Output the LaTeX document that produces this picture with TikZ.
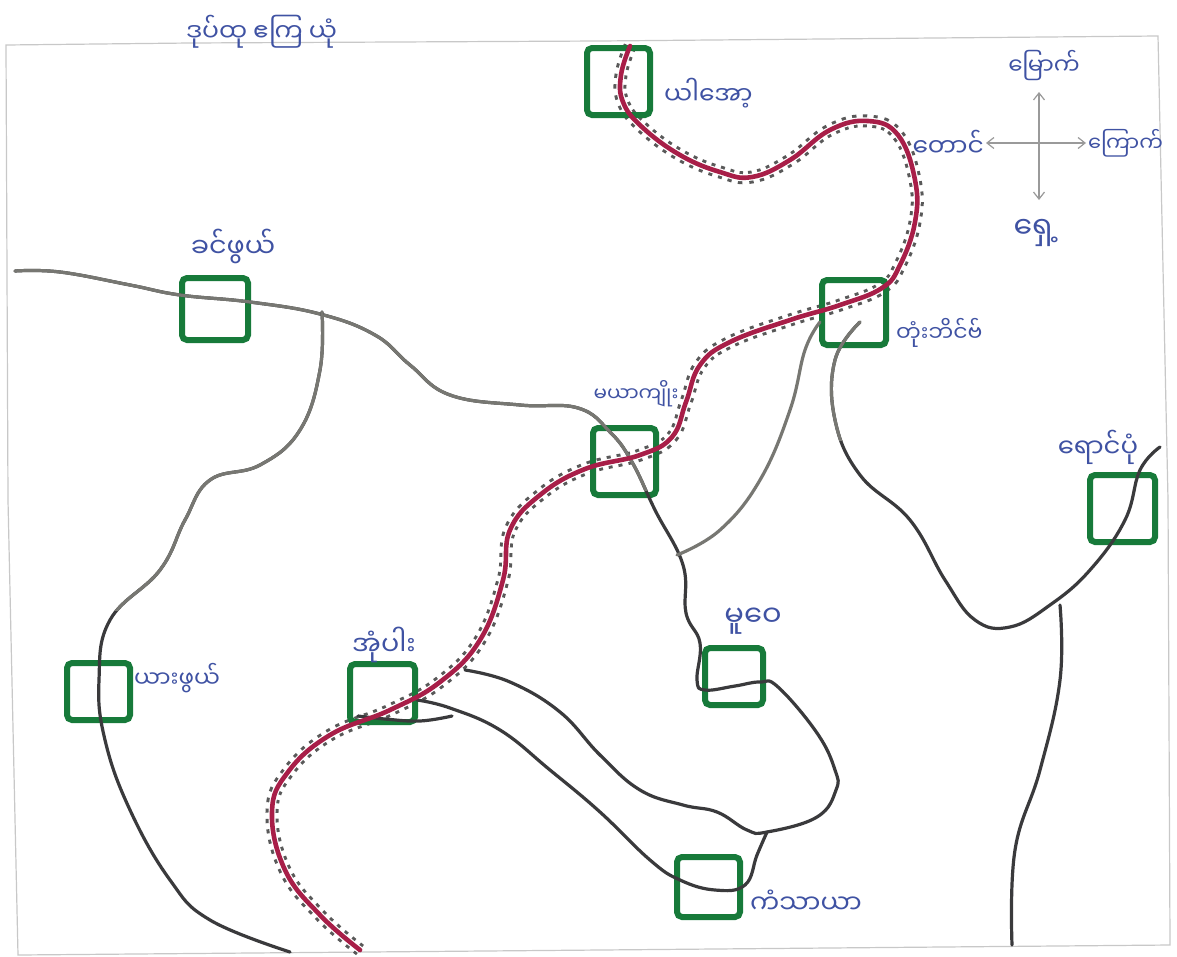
\documentclass[tikz,border=0pt]{standalone}
\usepackage{fontspec}
\usetikzlibrary{arrows.meta}
\newfontfamily\myan[Script=Myanmar]{Noto Sans Myanmar UI}
\definecolor{boxgreen}{HTML}{177A3A}
\definecolor{roadred}{HTML}{A81E48}
\definecolor{inkblue}{HTML}{3F52A3}
\definecolor{roadgrey}{HTML}{777772}
\definecolor{roaddark}{HTML}{3A3A3C}
\definecolor{framegrey}{HTML}{C8C8C8}
\definecolor{compassgrey}{HTML}{9A9A9A}
\tikzset{
  town/.style={draw=boxgreen,line width=6pt,rounded corners=5pt,fill=none,inner sep=0pt},
  place/.style={text=inkblue,inner sep=0pt},
  fs/.style={font=\myan\fontsize{#1}{#1}\selectfont},
  greyroad/.style={draw=roadgrey,line width=3.2pt,line cap=round,line join=round},
  darkroad/.style={draw=roaddark,line width=3.2pt,line cap=round,line join=round},
  mainroad/.style={draw=roadred,line width=4.6pt,line cap=round,line join=round},
  dots/.style={draw=black!65,line width=13pt,dash pattern=on 4pt off 6pt},
  inner/.style={draw=white,line width=7pt},
  compass/.style={draw=compassgrey,line width=1.2pt,{Straight Barb[length=7pt,width=11pt]}-{Straight Barb[length=7pt,width=11pt]}}
}
\newcommand{\redroute}{plot[smooth,tension=.7] coordinates {(630,46) (621,75) (623,102) (642,127) (680,155) (720,172) (752,177) (790,160) (830,130) (868,121) (898,135) (915,180) (915,222) (900,265) (882,288) (840,305) (790,320) (730,342) (700,365) (686,402) (672,437) (640,455) (585,469) (540,495) (510,530) (503,580) (480,640) (440,682) (390,710) (330,735) (288,772) (272,812) (285,870) (320,915) (360,950)}}
\newcommand{\leftroute}{plot[smooth,tension=.7] coordinates {(322,312) (320,370) (300,430) (260,465) (210,480) (185,520) (160,570) (110,620) (99,680) (105,740) (130,810) (170,880) (210,920) (290,952)}}
\newcommand{\eastroute}{plot[smooth,tension=.7] coordinates {(860,322) (835,360) (835,420) (860,475) (910,520) (945,580) (975,620) (1010,627) (1050,605) (1090,570) (1125,520) (1140,470) (1160,447)}}
\newcommand{\midroute}{plot[smooth,tension=.7] coordinates {(15,271) (60,272) (130,285) (180,295) (250,302) (320,314) (375,335) (410,365) (450,395) (520,405) (578,408) (610,432) (632,462) (655,510) (683,565) (686,613) (700,643) (697,680) (705,690) (735,686) (760,682) (778,687) (817,733) (835,770) (836,790) (817,817) (767,832) (747,830) (717,812) (683,805) (640,790) (600,755) (560,712) (510,682) (465,670)}}
\begin{document}
\begin{tikzpicture}[x=1pt,y=-1pt]
\useasboundingbox (0,0) rectangle (1177,956);
\fill[white] (0,0) rectangle (1177,956);
% sheet frame
\draw[framegrey,line width=1.2pt] (6,45) -- (190,43) -- (600,41) -- (1158,36) -- (1168,500) -- (1170,945) -- (600,950) -- (18,955) -- (8,500) -- cycle;
% sleepers beside the main road
\draw[dots] \redroute;
\draw[inner] \redroute;
% towns
\node[town,minimum width=63pt,minimum height=67pt] (paaw) at (618.5,81.5) {};
\node[town,minimum width=66pt,minimum height=62pt] (hsin) at (215,309) {};
\node[town,minimum width=64pt,minimum height=65pt] (tung) at (854,312.5) {};
\node[town,minimum width=63pt,minimum height=67pt] (yau) at (624.5,461.5) {};
\node[town,minimum width=65pt,minimum height=67pt] (raung) at (1122.5,508.5) {};
\node[town,minimum width=58pt,minimum height=57pt] (mu) at (734,676.5) {};
\node[town,minimum width=65pt,minimum height=58pt] (aung) at (382.5,693) {};
\node[town,minimum width=63pt,minimum height=57pt] (yar) at (98.5,691.5) {};
\node[town,minimum width=63pt,minimum height=60pt] (kan) at (708.5,887) {};
% roads
\draw[darkroad] \midroute;
\begin{scope}\clip (0,0) rectangle (1177,490);\draw[greyroad] \midroute;\end{scope}
\draw[darkroad] \leftroute;
\begin{scope}\clip (0,0) rectangle (1177,610);\draw[greyroad] \leftroute;\end{scope}
\draw[darkroad] \eastroute;
\begin{scope}\clip (0,0) rectangle (1177,440);\draw[greyroad] \eastroute;\end{scope}
\draw[greyroad] plot[smooth,tension=.7] coordinates {(677,555) (720,530) (760,480) (790,410) (805,350) (820,322)};
\draw[darkroad] plot[smooth,tension=.7] coordinates {(767,832) (757,855) (745,885) (715,890) (680,880) (650,860) (600,812) (550,770) (500,730) (450,708) (417,700)};
\draw[darkroad] plot[smooth,tension=.7] coordinates {(358,716) (385,719) (420,721) (452,716)};
\draw[darkroad] plot[smooth,tension=.7] coordinates {(1060,605) (1060,680) (1040,770) (1015,850) (1012,945)};
% main road
\draw[mainroad] \redroute;
% labels
\node[place,fs=25,anchor=west] (t0) at (186,32) {ဒုပ်ထု\hspace{6pt}ဧကြ\hspace{6pt}ယုံ};
\node[place,fs=25,anchor=west] (t1) at (664,93) {ယါအော့};
\node[place,fs=27,anchor=center] (t2) at (233,246) {ခင်ဖွယ်};
\node[place,fs=22,anchor=west] (t3) at (896,333) {တုံးဘိင်ဗ်};
\node[place,fs=20,anchor=center] (t4) at (636,394) {မယာကျိုး};
\node[place,fs=26,anchor=center] (t5) at (1098,447) {ရောင်ပုံ};
\node[place,fs=29,anchor=center] (t6) at (753,621) {မူဝေ};
\node[place,fs=27,anchor=center] (t7) at (384,645) {အုံပါး};
\node[place,fs=23,anchor=west] (t8) at (134,678) {ယားဖွယ်};
\node[place,fs=26,anchor=west] (t9) at (750,902) {ကံသာယာ};
% compass
\node[place,fs=23,anchor=center] (north) at (1044,66) {မြောက်};
\node[place,fs=30,anchor=center] (south) at (1036,233) {ရှေ့};
\node[place,fs=25,anchor=east] (west) at (984,143) {တောင်};
\node[place,fs=21,anchor=west] (east) at (1088,143) {ကြောက်};
\coordinate (cu) at (1039,92);
\coordinate (cd) at (1039,200);
\coordinate (cl) at (986,143);
\coordinate (cr) at (1086,143);
\draw[compass] (cu) -- (cd);
\draw[compass] (cl) -- (cr);
\end{tikzpicture}
\end{document}
